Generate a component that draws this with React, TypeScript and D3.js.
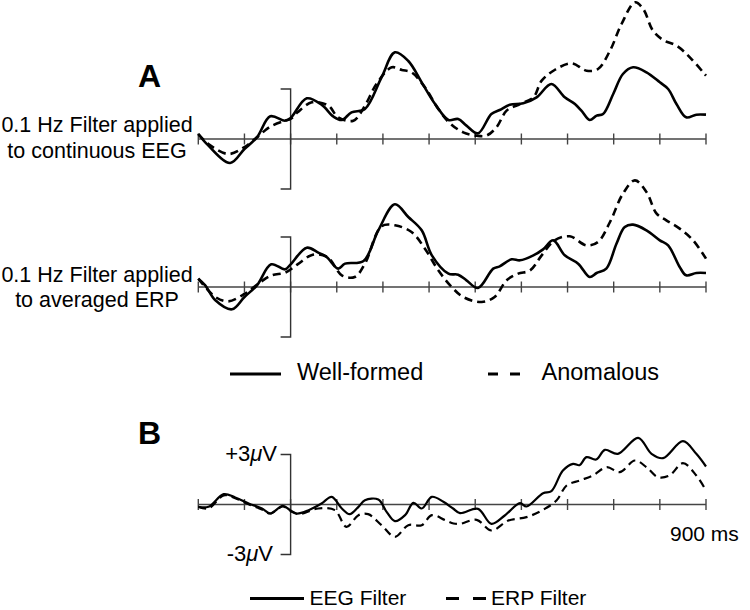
import React from "react";
import * as d3 from "d3";

// time (ms) , amplitude (µV)
const contWell: [number, number][] = [
  [-200, 0.3], [-178, -0.4], [-131, -1.44], [-100, -0.6], [-73, 0.1], [-44, 1.36], [-12, 1.1], [0, 1.26],
  [35, 2.44], [67, 2.06], [93, 1.34], [111, 1.14], [132, 1.6], [161, 1.8], [197, 3.7], [226, 5.2], [255, 4.68],
  [284, 3.4], [313, 2.1], [342, 1.14], [363, 1.2], [381, 0.8], [406, 0.34], [435, 1.5], [453, 1.74], [475, 2.06],
  [504, 2.14], [533, 2.5], [565, 3.3], [594, 2.5], [616, 2.1], [630, 1.7], [648, 1.14], [663, 1.4], [677, 1.5],
  [699, 2.7], [720, 3.9], [742, 4.3], [771, 4.0], [800, 3.4], [818, 3.0], [836, 2.1], [857, 1.3], [879, 1.46], [900, 1.46],
];
const contAnom: [number, number][] = [
  [-200, 0.3], [-178, -0.3], [-135, -0.9], [-100, -0.48], [-73, 0.1], [-44, 0.74], [-12, 1.1], [0, 1.2],
  [15, 1.6], [46, 2.2], [82, 2.0], [103, 1.3], [136, 1.1], [161, 2.0], [186, 3.3], [219, 4.3], [241, 4.14],
  [262, 4.0], [291, 3.1], [320, 1.8], [345, 0.95], [374, 0.4], [403, 0.2], [424, 0.2], [446, 0.7], [468, 1.7],
  [497, 2.1], [526, 2.5], [544, 3.5], [572, 4.14], [609, 4.54], [641, 4.1], [666, 4.2], [692, 5.3], [717, 6.9],
  [746, 8.2], [764, 7.8], [785, 6.5], [807, 5.94], [836, 5.6], [865, 4.9], [900, 3.8],
];
const avgWell: [number, number][] = [
  [-200, 0.5], [-185, 0.1], [-163, -0.8], [-127, -1.34], [-100, -0.6], [-73, 0.1], [-42, 1.36], [-12, 1.06],
  [0, 1.36], [35, 2.36], [60, 2.06], [78, 1.8], [103, 1.1], [118, 1.4], [158, 1.56], [190, 3.4], [226, 4.96],
  [255, 4.2], [284, 3.4], [306, 1.9], [342, 0.8], [363, 0.74], [381, 0.4], [406, -0.06], [439, 1.1], [453, 1.24],
  [479, 1.66], [497, 1.6], [526, 1.9], [547, 2.26], [569, 2.8], [594, 1.9], [623, 1.4], [648, 0.6], [663, 0.84],
  [684, 1.1], [706, 2.6], [724, 3.6], [742, 3.74], [771, 3.4], [800, 2.8], [818, 2.5], [843, 1.2], [857, 0.7],
  [879, 0.84], [900, 0.84],
];
const avgAnom: [number, number][] = [
  [-200, 0.5], [-163, -0.6], [-135, -0.86], [-99, -0.4], [-70, 0.2], [-41, 0.7], [-12, 0.86], [15, 1.36],
  [48, 1.94], [80, 1.8], [111, 0.7], [139, 0.6], [161, 1.4], [197, 3.64], [226, 3.7], [262, 3.3], [291, 2.3],
  [320, 1.0], [349, 0.0], [374, -0.6], [414, -0.9], [442, -0.6], [468, 0.4], [493, 0.8], [519, 1.0], [544, 1.9],
  [572, 2.8], [605, 3.04], [641, 2.5], [666, 2.7], [692, 3.9], [720, 5.6], [746, 6.4], [771, 5.7], [793, 4.4],
  [814, 4.0], [843, 3.5], [872, 2.8], [900, 1.7],
];
const diffEEG: [number, number][] = [
  [-200, -0.14], [-178, -0.14], [-145, 0.62], [-120, 0.42], [-91, 0.06], [-62, -0.24], [-44, -0.54], [-17, -0.08],
  [-1, -0.34], [13, -0.54], [39, -0.34], [67, 0.06], [89, 0.46], [111, -0.24], [128, -0.58], [147, -0.14],
  [161, 0.26], [190, 0.3], [208, -0.44], [226, -1.0], [248, -0.64], [266, 0.1], [284, -0.24], [306, 0.46],
  [331, 0.16], [352, -0.24], [367, -0.52], [406, -0.26], [435, -1.16], [464, -0.66], [497, 0.08], [511, -0.12],
  [547, 0.68], [565, 0.8], [590, 2.04], [612, 2.44], [626, 2.36], [641, 2.84], [662, 2.7], [681, 3.28],
  [709, 3.04], [753, 4.0], [782, 3.04], [807, 2.78], [850, 3.8], [879, 3.04], [900, 2.28],
];
const diffERP: [number, number][] = [
  [-200, -0.14], [-178, -0.24], [-145, 0.55], [-120, 0.38], [-91, 0.02], [-62, -0.3], [-44, -0.54], [-17, -0.12],
  [0, -0.4], [17, -0.58], [60, -0.24], [96, -0.34], [121, -1.34], [147, -0.64], [168, -0.58], [197, -1.24],
  [226, -1.94], [255, -1.24], [284, -1.24], [306, -0.64], [335, -0.94], [353, -1.14], [367, -1.16], [403, -0.92],
  [435, -1.56], [472, -0.96], [511, -0.76], [547, -0.32], [576, 0.24], [598, 1.14], [626, 1.44], [655, 1.74],
  [685, 2.24], [713, 1.94], [746, 2.64], [771, 2.24], [796, 1.64], [821, 1.74], [850, 2.48], [879, 1.74], [900, 0.84],
];

const tickTimes = [-200, -100, 0, 100, 200, 300, 400, 500, 600, 700, 800, 900];
const rowLabels = [
  ["0.1 Hz Filter applied", "to continuous EEG"],
  ["0.1 Hz Filter applied", "to averaged ERP"],
];
const legendA = ["Well-formed", "Anomalous"];
const legendB = ["EEG Filter", "ERP Filter"];
const FONT = "'Liberation Sans', Arial, Helvetica, sans-serif";

const x = d3.scaleLinear().domain([-200, 900]).range([198.3, 706]);

function Panel({ axisY, solid, dashed, sw, labels }: any) {
  const y = d3.scaleLinear().domain([-3, 3]).range([axisY + 50, axisY - 50]);
  const line = d3
    .line<[number, number]>()
    .x((d) => x(d[0]))
    .y((d) => y(d[1]))
    .curve(d3.curveCatmullRom.alpha(0.5));
  const x0 = x(0);
  return (
    <g>
      <line x1={x(-200)} x2={x(900)} y1={y(0)} y2={y(0)} stroke="#444" strokeWidth={1.4} />
      {tickTimes.map((t) => (
        <line key={t} x1={x(t)} x2={x(t)} y1={y(0) - 5.5} y2={y(0) + 5.5} stroke="#444" strokeWidth={1.4} />
      ))}
      <path
        d={`M${x0 - 10},${y(3)}H${x0}V${y(-3)}H${x0 - 10}`}
        fill="none"
        stroke="#333"
        strokeWidth={1.4}
      />
      {labels}
      <path d={line(dashed) || ""} fill="none" stroke="#000" strokeWidth={sw} strokeDasharray="8,5" />
      <path d={line(solid) || ""} fill="none" stroke="#000" strokeWidth={sw} />
    </g>
  );
}

export default function App() {
  return (
    <svg
      width={750}
      height={610}
      style={{ position: "absolute", left: 0, top: 0, background: "#fff" }}
      fontFamily={FONT}
    >
      <rect width={750} height={610} fill="#fff" />
      <text x={138} y={87} fontSize={32} fontWeight="bold">A</text>
      <text x={138} y={444} fontSize={32} fontWeight="bold">B</text>

      {rowLabels.map((lines, i) => (
        <text key={i} fontSize={21.5} textAnchor="middle">
          <tspan x={97} y={i === 0 ? 131.7 : 281.7}>{lines[0]}</tspan>
          <tspan x={97} y={i === 0 ? 158.2 : 307}>{lines[1]}</tspan>
        </text>
      ))}

      <Panel axisY={139} solid={contWell} dashed={contAnom} sw={2.6} />
      <Panel axisY={287} solid={avgWell} dashed={avgAnom} sw={2.6} />
      <Panel
        axisY={504.5}
        solid={diffEEG}
        dashed={diffERP}
        sw={2.2}
        labels={
          <g fontSize={22}>
            <text x={277} y={461} textAnchor="end">+3<tspan fontStyle="italic">μ</tspan>V</text>
            <text x={273} y={561} textAnchor="end">-3<tspan fontStyle="italic">μ</tspan>V</text>
            <text x={670} y={541} fontSize={21}>900 ms</text>
          </g>
        }
      />

      {/* legend A */}
      <line x1={230} x2={281} y1={374} y2={374} stroke="#000" strokeWidth={3} />
      <text x={297} y={380} fontSize={23.5}>{legendA[0]}</text>
      <line x1={488} x2={520} y1={374} y2={374} stroke="#000" strokeWidth={3.2} strokeDasharray="10,12" />
      <text x={541.5} y={380} fontSize={23.5}>{legendA[1]}</text>

      {/* legend B */}
      <line x1={250} x2={304} y1={598.5} y2={598.5} stroke="#000" strokeWidth={3} />
      <text x={309.5} y={604.5} fontSize={21}>{legendB[0]}</text>
      <line x1={446} x2={486} y1={598.5} y2={598.5} stroke="#000" strokeWidth={3.2} strokeDasharray="13,14" />
      <text x={491} y={604.5} fontSize={21}>{legendB[1]}</text>
    </svg>
  );
}
